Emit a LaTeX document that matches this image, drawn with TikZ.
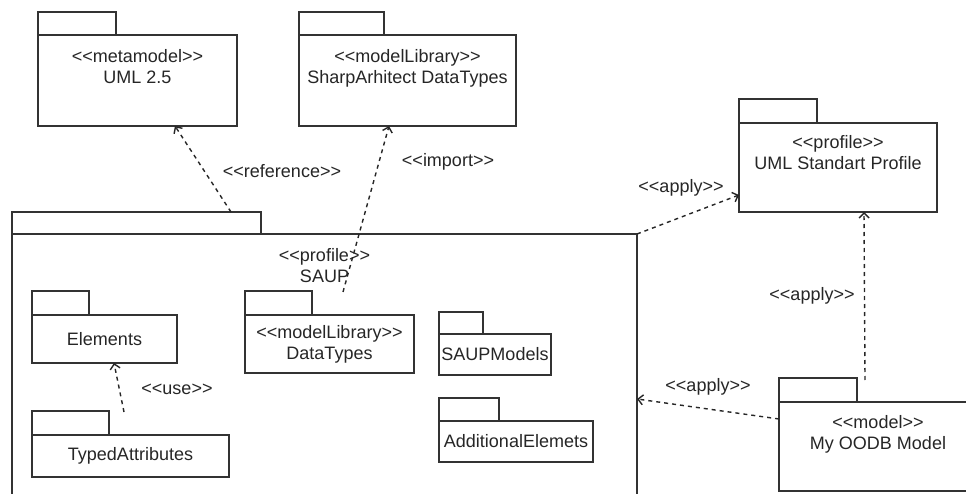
\documentclass[tikz,border=0pt]{standalone}
\usepackage{fontspec}
\setmainfont{Liberation Sans}
\usetikzlibrary{arrows.meta,calc,positioning}

\newcommand{\pkgfont}{\fontsize{18}{21}\selectfont}
% <<...>> without the guillemet ligature
\newcommand{\stype}[1]{<\kern0pt<#1>\kern0pt>}
% tab on top of a package body
\newcommand{\pkgtab}[3]{\node[pkgtab, minimum width=#2, minimum height=#3] (#1-tab) at (#1.north west) {};}

\tikzset{
  pkg/.style={draw=black!80, line width=1.6pt, inner sep=0pt, outer sep=0pt, font=\pkgfont, text=black!85, align=center},
  pkgtab/.style={draw=black!80, line width=1.6pt, inner sep=0pt, outer sep=0pt, anchor=south west},
  pkgname/.style={font=\pkgfont, text=black!85, inner sep=0pt, align=center},
  deplabel/.style={font=\pkgfont, text=black!85, inner sep=1pt},
  dep/.style={draw=black!85, line width=1.4pt, dash pattern=on 4pt off 4pt, -{Straight Barb[length=5pt,width=10pt]}},
}

\begin{document}
\begin{tikzpicture}[x=1pt,y=1pt]
	\fill[white] (0,0) rectangle (966,493);
	\useasboundingbox (0,0) rectangle (966,493);
	
	%%%%% outer packages %%%%%
	\node[pkg, minimum width=199pt, minimum height=91pt] (uml) at (137.5,412.5) {};
	\pkgtab{uml}{78pt}{23pt}
	\node[pkgname, below=14pt of uml.north] (uml-name) {\stype{metamodel}\\UML 2.5};
	
	\node[pkg, minimum width=217pt, minimum height=91pt] (sharp) at (407.5,412.5) {};
	\pkgtab{sharp}{85pt}{23pt}
	\node[pkgname, below=14pt of sharp.north] (sharp-name) {\stype{modelLibrary}\\SharpArhitect DataTypes};
	
	\node[pkg, minimum width=198pt, minimum height=89pt] (stdprof) at (838,325.5) {};
	\pkgtab{stdprof}{78pt}{24pt}
	\node[pkgname, below=12pt of stdprof.north] (stdprof-name) {\stype{profile}\\UML Standart Profile};
	
	\node[pkg, minimum width=198pt, minimum height=89pt] (oodb) at (878,46.5) {};
	\pkgtab{oodb}{78pt}{24pt}
	\node[pkgname, below=13pt of oodb.north] (oodb-name) {\stype{model}\\My OODB Model};
	
	%%%%% SAUP profile %%%%%
	\node[pkg, minimum width=625pt, minimum height=286pt] (saup) at (324.5,116) {};
	\pkgtab{saup}{249pt}{22pt}
	\node[pkgname, below=14pt of saup.north] (saup-name) {\stype{profile}\\SAUP};
	
	\node[pkg, minimum width=145pt, minimum height=48pt] (elements) at (104.5,154) {Elements};
	\pkgtab{elements}{57pt}{24pt}
	
	\node[pkg, minimum width=197pt, minimum height=42pt] (typed) at (130.5,37) {TypedAttributes};
	\pkgtab{typed}{77pt}{24pt}
	
	\node[pkg, minimum width=169pt, minimum height=58pt] (datatypes) at (329.5,149) {\stype{modelLibrary}\\DataTypes};
	\pkgtab{datatypes}{67pt}{24pt}
	
	\node[pkg, minimum width=112pt, minimum height=41pt] (saupmodels) at (495,138.5) {SAUPModels};
	\pkgtab{saupmodels}{44pt}{22pt}
	
	\node[pkg, minimum width=154pt, minimum height=41pt] (additional) at (516,51.5) {AdditionalElemets};
	\pkgtab{additional}{60pt}{23pt}
	
	%%%%% dependencies %%%%%
	\draw[dep] ([xshift=94.5pt]saup-tab.north) -- ([xshift=37.5pt]uml.south);
	\draw[dep] ($(datatypes.north)+(13.5,23)$) -- ([xshift=-18.5pt]sharp.south);
	\draw[dep] (saup.north east) -- ($(stdprof.south west)+(0,17)$);
	\draw[dep] ($(oodb.north)+(-13,22)$) -- ([xshift=26pt]stdprof.south);
	\draw[dep] ($(oodb.north west)+(0,-17)$) -- ([yshift=-22pt]saup.east);
	\draw[dep] ($(typed.north)+(-6.5,23)$) -- ([xshift=9.5pt]elements.south);
	
	\node[deplabel] (lbl-ref) at (282,322) {\stype{reference}};
	\node[deplabel] (lbl-import) at (448,331) {\stype{import}};
	\node[deplabel] (lbl-apply1) at (681,305) {\stype{apply}};
	\node[deplabel] (lbl-apply2) at (812,197) {\stype{apply}};
	\node[deplabel] (lbl-apply3) at (708,106) {\stype{apply}};
	\node[deplabel] (lbl-use) at (177,104) {\stype{use}};
\end{tikzpicture}
\end{document}
